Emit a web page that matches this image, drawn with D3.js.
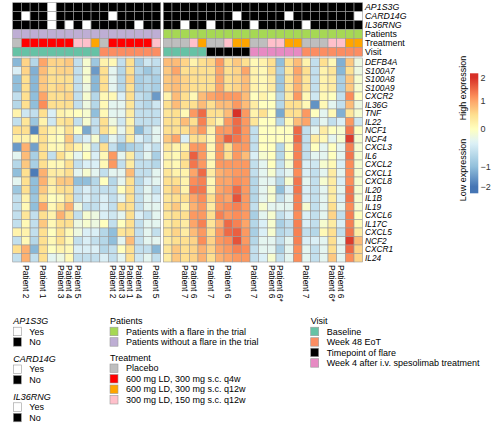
<!DOCTYPE html>
<html><head><meta charset="utf-8">
<script src="https://cdn.jsdelivr.net/npm/d3@7"></script>
<style>body{margin:0;background:#fff} svg{display:block;font-family:"Liberation Sans",Arial,sans-serif}</style>
</head><body><svg id="chart" width="500" height="436"></svg>
<script>
const genes = ["DEFB4A","S100A7","S100A8","S100A9","CXCR2","IL36G","TNF","IL22","NCF1","NCF4","CXCL3","IL6","CXCL2","CXCL1","CXCL8","IL20","IL1B","IL19","CXCL6","IL17C","CXCL5","NCF2","CXCR1","IL24"];

// sample groups: 17 patients without flare, 23 with flare
const groupLeft = 17, groupRight = 23;

const ap1s3g = ["No","No","No","No","Yes","No","No","No","No","No","No","No","No","No","No","No","No",
  "No","No","No","No","No","No","No","No","No","No","No","No","No","No","No","No","No","No","No","No","No","No","No"];
const card14g = ["No","Yes","No","No","Yes","No","No","No","No","No","No","Yes","No","No","No","No","No",
  "No","No","No","No","No","No","No","No","Yes","No","No","No","No","No","Yes","No","No","No","No","No","No","No","Yes"];
const il36rng = ["No","No","No","No","Yes","No","Yes","No","Yes","No","No","No","No","No","Yes","No","No",
  "No","No","Yes","No","No","Yes","No","No","No","No","Yes","No","No","No","No","No","Yes","No","No","No","No","No","No"];
const patients = [...Array(17).fill("without"), ...Array(23).fill("with")];
const treatment = ["P","A","A","A","A","A","A","C","C","B","P","A","A","A","A","A","C",
  "P","P","P","C","B","P","P","C","B","B","P","P","C","C","B","B","P","P","P","C","C","B","B"];
const visit = [...Array(10).fill("BL"), ...Array(7).fill("W48"),
  ...Array(5).fill("BL"), ...Array(5).fill("FL"), ...Array(6).fill("W4"), ...Array(7).fill("W48")];
const colLabels = ["","Patient 2","","Patient 1","","Patient 3","Patient 4","Patient 5","","","","Patient 2","Patient 3","Patient 1","Patient 4","","Patient 5",
  "","","Patient 7","Patient 6","","Patient 7","","Patient 6","","","Patient 7","","Patient 6","Patient 6*","","","Patient 7","","","Patient 6*","Patient 6","",""];

// expression (z-score) per sample, values in gene order
const expressionBySample = [
 [-1.1,-0.4,-1.0,-1.0,-0.6,-0.7,0.2,-0.6,0.5,0.2,-1.5,-0.3,-0.7,-1.0,-0.3,-0.9,-0.6,-0.6,-0.6,-0.6,0.2,-0.6,0.5,-0.6],
 [0.6,0.6,0.5,0.5,0.5,0.5,-0.5,0.4,0.5,0.2,0.9,0.8,0.7,0.5,0.5,0.5,0.2,0.1,0.4,0.1,0.2,0.1,0.9,0.9],
 [-0.7,-1.2,-1.1,-1.1,-1.0,-1.0,-0.6,-0.9,-1.8,0.1,-1.4,-0.8,-0.8,-1.9,-1.0,-1.0,-0.9,-1.0,-0.6,-0.6,-0.6,-0.7,-1.1,-0.6],
 [1.0,0.8,0.7,0.7,1.0,1.2,0.5,0.2,0.5,0.5,0.5,0.5,0.5,0.9,0.9,0.7,0.5,1.0,0.5,0.7,0.5,0.5,0.5,0.5],
 [0.6,0.5,0.5,0.5,0.5,0.5,-0.4,-0.5,0.2,0.1,0.1,-0.6,0.1,0.3,0.3,0.2,0.0,0.1,0.2,0.1,0.0,0.1,0.0,-0.3],
 [0.6,0.6,0.5,0.6,0.5,0.5,0.2,0.4,0.1,0.0,0.1,0.5,0.1,0.3,0.7,0.5,0.1,0.5,0.9,0.5,0.5,0.5,0.2,-0.2],
 [0.7,0.6,0.5,0.5,0.6,0.5,0.1,0.5,0.5,0.7,0.5,0.1,0.5,0.5,0.7,0.5,0.5,0.9,0.5,0.5,0.1,0.1,0.1,0.1],
 [-0.6,-0.6,-0.6,-0.6,-0.6,-0.6,0.0,-0.6,0.0,-0.6,0.2,-0.3,-0.6,-0.3,-1.0,-0.6,-0.6,-0.2,-0.6,-0.2,-0.2,-0.6,-0.4,-0.6],
 [-0.1,-0.1,-0.1,-0.2,-0.1,-0.2,-0.1,-0.1,-1.3,-0.4,-0.1,0.0,-0.4,-0.1,-1.0,-0.4,-0.4,-0.6,-0.1,-0.1,-0.4,-0.4,-0.4,-0.6],
 [-0.9,-1.5,-1.1,-1.1,-0.7,-0.7,-1.0,-0.6,-0.6,-0.1,-0.6,-0.4,-0.4,-0.3,-0.7,-0.6,-0.6,-0.6,-0.2,-0.2,-0.4,-0.6,-0.4,-0.6],
 [0.2,0.5,0.5,0.5,0.1,0.1,0.1,0.5,0.5,-0.8,0.5,0.1,0.1,-0.6,0.0,-0.6,-0.4,-0.4,-0.4,0.0,-0.7,-0.7,-0.7,-0.4],
 [0.1,-0.3,-0.3,-0.3,0.1,-0.3,-0.3,-0.2,0.1,-0.3,-0.6,1.1,1.1,-0.3,-0.7,-0.6,-0.6,-0.6,-0.5,-0.6,-1.0,-1.0,-0.6,-0.6],
 [-0.6,-0.7,-0.7,-0.7,-0.4,-0.3,-0.3,-0.5,-0.3,-0.6,-1.0,-0.3,-0.6,-0.3,-0.3,0.0,-0.3,0.5,-0.3,0.0,0.4,-0.3,0.0,-0.3],
 [0.5,0.5,0.6,0.5,0.5,0.4,0.3,0.2,0.3,0.3,-0.8,0.3,0.3,0.8,0.5,0.5,0.5,0.5,0.5,0.5,0.5,0.8,0.5,0.5],
 [-0.8,-0.7,-0.8,-0.8,-0.6,-0.6,-0.6,-0.6,-1.1,-0.4,-0.7,-0.6,-0.6,-0.6,-0.7,-0.6,-0.6,-0.6,-0.4,-0.6,-0.6,-0.6,-0.6,-0.5],
 [-0.5,-0.9,-0.7,-0.7,-0.7,-0.7,-0.6,-0.6,-0.6,-0.6,-0.4,-0.3,-0.6,-0.6,-0.4,-0.3,-0.3,-0.3,-0.6,-0.3,-0.3,-0.3,-0.6,-0.3],
 [-0.6,-0.7,-0.8,-0.8,-1.5,-0.5,-0.6,-0.6,-0.3,-0.3,-0.6,-0.8,-0.7,-0.3,-0.3,-0.6,-0.4,-0.3,-0.3,-0.3,-0.6,-0.3,-1.1,-0.6],
 [0.8,0.7,0.7,0.7,0.2,0.5,0.4,0.5,0.5,0.7,0.4,0.2,0.2,0.4,0.5,0.5,0.4,0.5,0.4,0.3,0.4,0.3,0.4,0.3],
 [0.8,1.0,0.8,0.8,0.8,0.8,0.5,0.5,0.5,1.0,0.2,0.1,0.1,0.2,0.5,0.7,0.5,0.7,0.5,0.5,0.6,0.5,0.7,0.7],
 [0.6,0.5,0.6,0.6,0.5,0.5,0.1,0.8,0.5,-0.4,0.2,0.5,0.5,0.2,0.2,0.2,0.5,0.2,0.5,0.3,0.3,0.5,0.5,0.5],
 [0.2,0.5,0.5,0.5,0.1,0.5,1.1,0.5,0.8,0.5,1.1,1.6,1.4,1.0,1.2,1.4,1.0,0.9,1.1,1.0,0.8,0.6,0.6,0.6],
 [0.5,0.5,0.5,0.5,0.8,0.8,1.5,1.3,1.1,0.5,1.1,1.1,1.1,1.5,1.3,1.4,1.2,1.1,1.1,1.3,1.1,1.2,0.9,0.9],
 [0.6,0.5,0.5,0.5,1.0,0.5,0.5,0.5,0.2,0.1,0.1,0.1,0.1,0.3,0.1,0.2,0.5,0.3,0.5,0.4,0.5,0.6,0.6,0.5],
 [1.1,1.0,1.0,1.0,1.1,0.8,0.5,0.2,1.1,1.1,1.1,1.1,1.1,0.9,1.0,1.0,1.1,1.1,1.3,0.9,1.1,1.1,1.0,0.9],
 [0.5,0.5,0.5,0.5,1.1,0.8,0.8,1.1,1.1,1.6,0.5,0.5,1.1,1.0,1.0,1.1,1.0,1.2,1.1,1.5,1.5,1.2,1.1,1.0],
 [0.7,0.6,0.6,0.6,1.1,1.1,2.1,1.5,1.5,1.4,1.1,1.1,1.1,1.1,1.2,1.5,1.7,1.3,1.2,1.3,1.6,1.7,1.3,1.1],
 [0.5,1.0,0.8,0.8,0.8,0.8,1.1,1.1,1.1,1.1,1.1,0.8,1.1,1.1,1.1,1.1,1.1,1.1,1.1,1.0,1.1,1.1,1.2,1.1],
 [0.1,0.2,0.2,0.2,0.0,0.3,0.2,0.4,-0.6,-0.6,-0.6,-0.4,-0.6,-0.6,-0.7,-0.7,-0.7,-0.6,-0.8,-0.7,-0.8,-0.7,-0.6,-0.6],
 [0.2,0.1,0.1,0.1,0.2,0.0,0.5,0.0,0.0,0.0,0.0,-0.1,-0.3,-0.3,-0.3,-0.3,-0.3,-0.1,-0.3,-0.4,-0.4,-0.3,-0.3,-0.4],
 [0.5,0.5,0.3,0.3,0.0,0.0,0.0,0.0,0.0,0.0,0.0,0.0,0.0,-0.1,-0.3,-0.1,-0.1,-0.3,-0.1,-0.1,-0.1,-0.3,-0.3,-0.1],
 [-1.0,-0.8,-0.9,-0.9,-0.7,-0.7,-1.3,-0.7,0.0,0.0,-0.7,-0.7,-0.6,-0.5,-0.7,-1.0,-0.6,-0.3,-0.6,-0.8,-0.7,-0.6,-0.8,-0.6],
 [0.5,0.4,0.4,0.4,0.3,0.5,0.5,0.1,0.0,0.0,0.0,0.0,-0.1,-0.3,-0.1,-0.4,-0.3,-0.3,-0.4,-0.6,-0.6,-0.3,-0.3,-0.3],
 [0.8,1.0,0.9,0.9,1.1,0.5,0.5,0.8,1.5,1.5,1.3,1.3,1.3,1.2,1.4,1.4,1.3,1.3,1.2,1.3,1.3,1.3,1.2,1.2],
 [0.2,0.5,0.4,0.4,0.1,0.1,1.1,1.0,-0.6,-0.6,-0.6,-0.6,-0.4,-0.4,-0.3,-0.4,-0.4,-0.1,-0.4,-0.4,-0.6,-0.4,-0.3,-0.3],
 [-0.6,-0.6,-0.6,-0.6,-0.5,-1.6,0.0,-0.6,-0.3,0.3,0.0,-0.3,-0.5,-0.6,-0.6,-0.6,-0.6,-0.6,-0.6,-0.6,-0.7,-0.4,-0.6,-0.6],
 [0.5,0.2,0.2,0.2,0.1,0.1,-0.3,-0.3,0.3,0.1,-0.3,-0.3,-0.1,-0.3,-0.1,-0.3,-0.3,-0.3,-0.3,-0.1,0.1,-0.3,-0.3,-0.3],
 [0.1,0.4,0.3,0.3,0.0,-0.3,0.1,-0.6,0.0,-0.3,0.0,0.0,0.1,0.3,0.3,0.3,0.3,0.5,0.6,0.3,0.5,0.5,0.5,0.7],
 [-1.2,-1.1,-0.8,-0.8,-0.6,-0.6,-1.2,-0.4,-0.1,-0.1,-0.3,-0.3,-0.4,-0.3,-0.4,-0.3,-0.4,-0.3,-0.6,-0.4,-0.6,-0.3,-0.3,-0.3],
 [0.7,0.5,0.7,0.7,1.2,0.8,0.4,1.1,1.4,1.9,1.3,1.4,1.2,1.2,1.2,1.4,1.4,1.2,1.3,1.3,1.4,1.9,1.5,1.2],
 [-0.2,-0.2,-0.1,-0.1,0.0,-0.2,-0.1,-0.5,0.0,-0.1,-0.1,-0.1,-0.1,-0.1,-0.1,-0.1,-0.1,-0.1,0.0,0.1,0.3,0.8,0.6,0.6]
];

const legendTicks = [2, 1, 0, -1, -2];
const annoNames = ["AP1S3G","CARD14G","IL36RNG","Patients","Treatment","Visit"];
const yesNoColors = {Yes:"#FFFFFF", No:"#000000"};
const patientsColors = {with:"#A6D854", without:"#BEAED4"};
const treatmentColors = {P:"#BEBEBE", A:"#FF0000", B:"#FFA500", C:"#FFC0CB"};
const visitColors = {BL:"#66C2A5", W48:"#FC8D62", FL:"#000000", W4:"#E78AC3"};

const svg = d3.select("#chart");
const nS = groupLeft + groupRight;
const idx = d3.range(nS);
const xL = d3.scaleBand().domain(d3.range(groupLeft)).range([12.7, 160.7]);
const xR = d3.scaleBand().domain(d3.range(groupLeft, nS)).range([163.3, 362.7]);
const xPos = i => i < groupLeft ? xL(i) : xR(i);
const bw = i => i < groupLeft ? xL.bandwidth() : xR.bandwidth();
const yG = d3.scaleBand().domain(genes).range([58, 262]);
const yA = d3.scaleBand().domain(annoNames).range([2.7, 56.2]);

const color = d3.scaleLinear()
  .domain([-2.0,-1.0,-0.35,0,0.5,1.2,2.0])
  .range(["#4575B4","#91BFDB","#E0F3F8","#FFFFBF","#FEE090","#FC8D59","#D73027"])
  .clamp(true);

const border = "#9a9a9a";

// annotations
const annoData = [
  {name:"AP1S3G", vals:ap1s3g, col:yesNoColors, it:true},
  {name:"CARD14G", vals:card14g, col:yesNoColors, it:true},
  {name:"IL36RNG", vals:il36rng, col:yesNoColors, it:true},
  {name:"Patients", vals:patients, col:patientsColors, it:false},
  {name:"Treatment", vals:treatment, col:treatmentColors, it:false},
  {name:"Visit", vals:visit, col:visitColors, it:false}
];
annoData.forEach(a => {
  svg.append("g").selectAll("rect").data(idx).join("rect")
    .attr("x", i => xPos(i)).attr("y", yA(a.name))
    .attr("width", i => bw(i)).attr("height", yA.bandwidth())
    .attr("fill", i => a.col[a.vals[i]])
    .attr("stroke", border).attr("stroke-width", 0.6);
  svg.append("text").attr("x", 365).attr("y", yA(a.name) + yA.bandwidth()/2 + 3.2)
    .attr("font-size", 8.8)
    .style("font-style", a.it ? "italic" : "normal")
    .text(a.name);
});

// heatmap
const cells = [];
expressionBySample.forEach((vals, i) => vals.forEach((v, g) => cells.push({i, gene: genes[g], v})));
svg.append("g").selectAll("rect").data(cells).join("rect")
  .attr("x", d => xPos(d.i)).attr("y", d => yG(d.gene))
  .attr("width", d => bw(d.i)).attr("height", yG.bandwidth())
  .attr("fill", d => color(d.v))
  .attr("stroke", border).attr("stroke-width", 0.6);

// gene labels
svg.append("g").selectAll("text").data(genes).join("text")
  .attr("x", 365).attr("y", d => yG(d) + yG.bandwidth()/2 + 3)
  .attr("font-size", 8.3).style("font-style","italic")
  .text(d => d);

// column labels
svg.append("g").selectAll("text").data(idx.filter(i => colLabels[i])).join("text")
  .attr("transform", i => `translate(${xPos(i) + bw(i)/2 - 3},265) rotate(90)`)
  .attr("font-size", 8.5)
  .text(i => colLabels[i]);

// colour legend
const yLeg = d3.scaleLinear().domain([-2.2,-2,-1,0,1,2,2.2]).range([193.3,186.7,166.7,129,101,77.7,73.3]);
const defs = svg.append("defs");
const grad = defs.append("linearGradient").attr("id","cbar").attr("x1",0).attr("x2",0).attr("y1",0).attr("y2",1);
d3.range(22, -23, -1).map(k => k / 10).forEach(v => {
  grad.append("stop").attr("offset", ((yLeg(v) - 73.3) / 120).toFixed(4)).attr("stop-color", color(v));
});
svg.append("rect").attr("x", 470).attr("y", 73.3).attr("width", 8.3).attr("height", 120).attr("fill","url(#cbar)");
const tickG = svg.append("g");
legendTicks.forEach(d => {
  tickG.append("text").attr("x", 480.5).attr("y", yLeg(d) + 3.2).attr("font-size", 9)
    .attr("fill", "#333")
    .text(d < 0 ? "\u2212" + Math.abs(d) : String(d));
});
svg.append("text").attr("transform","translate(466,88) rotate(-90)").attr("text-anchor","middle")
  .attr("font-size", 9).text("High expression");
svg.append("text").attr("transform","translate(466,170) rotate(-90)").attr("text-anchor","middle")
  .attr("font-size", 9).text("Low expression");

// discrete legends
function legend(x, y, title, italic, items) {
  const g = svg.append("g");
  g.append("text").attr("x", x).attr("y", y + 3.2).attr("font-size", 9)
    .style("font-style", italic ? "italic" : "normal").text(title);
  items.forEach((it, k) => {
    const yy = y + 6.5 + k * 10.5;
    g.append("rect").attr("x", x).attr("y", yy).attr("width", 8).attr("height", 8.5)
      .attr("fill", it[1]).attr("stroke", border).attr("stroke-width", 0.6);
    g.append("text").attr("x", x + 16).attr("y", yy + 4.25 + 3.2)
      .attr("font-size", 9).text(it[0]);
  });
}
legend(13.3, 320.7, "AP1S3G", true, [["Yes", yesNoColors.Yes], ["No", yesNoColors.No]]);
legend(13.3, 358.5, "CARD14G", true, [["Yes", yesNoColors.Yes], ["No", yesNoColors.No]]);
legend(13.3, 396.3, "IL36RNG", true, [["Yes", yesNoColors.Yes], ["No", yesNoColors.No]]);
legend(110, 320.7, "Patients", false, [["Patients with a flare in the trial", patientsColors.with], ["Patients without a flare in the trial", patientsColors.without]]);
legend(110, 357.5, "Treatment", false, [["Placebo", treatmentColors.P], ["600 mg LD, 300 mg s.c. q4w", treatmentColors.A], ["600 mg LD, 300 mg s.c. q12w", treatmentColors.B], ["300 mg LD, 150 mg s.c. q12w", treatmentColors.C]]);
legend(310.7, 320.7, "Visit", false, [["Baseline", visitColors.BL], ["Week 48 EoT", visitColors.W48], ["Timepoint of flare", visitColors.FL], ["Week 4 after i.v. spesolimab treatment", visitColors.W4]]);
</script></body></html>
